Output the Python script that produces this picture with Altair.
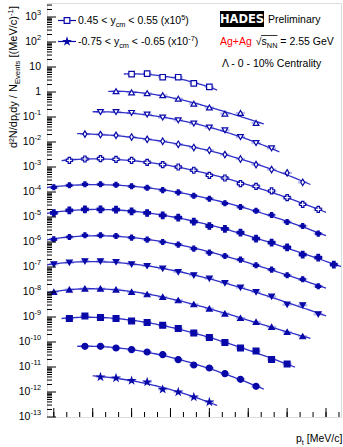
import numpy as np
import pandas as pd
import altair as alt

# ---------------- data: Lambda dN/dpt dy per event, Ag+Ag 0-10 %, unscaled ----------------
# one array per rapidity slice, pt bins are 80 MeV/c wide starting at first_pt
dndpt_y050 = [5.2e-5, 5.4e-5, 3.9e-5, 3.9e-5, 2.2e-5, 1.6e-5]
dndpt_y040 = [1.07e-4, 9.7e-5, 8.9e-5, 7.4e-5, 5.4e-5, 3.4e-5, 2.4e-5, 1.37e-5, 1.45e-5, 5.8e-6]
dndpt_y030 = [1.58e-4, 1.58e-4, 1.45e-4, 1.25e-4, 9.5e-5, 7.4e-5, 5.45e-5, 3.77e-5, 2.94e-5,
              1.58e-5, 9.1e-6, 5.6e-6]
dndpt_y020 = [2.07e-4, 1.98e-4, 1.85e-4, 1.58e-4, 1.28e-4, 1.07e-4, 8.1e-5, 6.0e-5, 4.66e-5,
              3.13e-5, 2.09e-5, 1.25e-5, 7.9e-6, 5.8e-6, 2.44e-6]
dndpt_y010 = [1.85e-4, 2.09e-4, 2.17e-4, 2.03e-4, 1.85e-4, 1.54e-4, 1.25e-4, 1.0e-4, 7.4e-5,
              4.66e-5, 3.63e-5, 2.17e-5, 1.69e-5, 1.10e-5, 5.97e-6, 3.22e-6, 2.03e-6]
dndpt_y000 = [1.54e-4, 1.85e-4, 2.03e-4, 2.03e-4, 1.94e-4, 1.69e-4, 1.47e-4, 1.19e-4, 9.7e-5,
              7.05e-5, 5.35e-5, 3.53e-5, 2.51e-5, 1.77e-5, 1.20e-5, 6.3e-6, 4.37e-6, 2.17e-6]
dndpt_ym010 = [1.45e-4, 1.85e-4, 2.03e-4, 2.03e-4, 1.98e-4, 1.69e-4, 1.45e-4, 1.17e-4, 9.46e-5,
               6.55e-5, 4.37e-5, 3.37e-5, 2.38e-5, 1.37e-5, 9.46e-6, 6.14e-6, 3.13e-6, 2.38e-6,
               1.25e-6]
dndpt_ym020 = [1.28e-4, 1.58e-4, 1.85e-4, 1.85e-4, 1.74e-4, 1.5e-4, 1.25e-4, 1.0e-4, 7.87e-5,
               5.45e-5, 3.77e-5, 2.75e-5, 1.98e-5, 1.17e-5, 7.87e-6, 4.66e-6, 3.22e-6, 1.69e-6]
dndpt_ym030 = [1.28e-4, 1.5e-4, 1.69e-4, 1.69e-4, 1.58e-4, 1.28e-4, 1.10e-4, 8.63e-5, 6.31e-5,
               4.66e-5, 3.44e-5, 2.29e-5, 1.5e-5, 1.0e-5, 6.55e-6, 3.13e-6, 2.94e-6, 1.28e-6]
dndpt_ym040 = [1.0e-4, 1.25e-4, 1.37e-4, 1.37e-4, 1.25e-4, 1.0e-4, 8.1e-5, 6.31e-5, 4.66e-5,
               3.22e-5, 2.17e-5, 1.37e-5, 9.1e-6, 6.31e-6, 3.98e-6, 2.51e-6, 1.69e-6]
dndpt_ym050 = [8.63e-5, 1.10e-4, 9.46e-5, 8.63e-5, 6.92e-5, 5.97e-5, 4.66e-5, 3.44e-5, 2.29e-5,
               1.5e-5, 9.46e-6, 5.75e-6, 4.37e-6, 1.98e-6, 1.32e-6]
dndpt_ym060 = [6.73e-5, 6.73e-5, 5.75e-5, 4.97e-5, 3.98e-5, 3.13e-5, 1.98e-5, 1.2e-5, 9.1e-6,
               5.45e-6, 3.22e-6, 1.69e-6]
dndpt_ym070 = [3.98e-5, 3.63e-5, 2.86e-5, 2.51e-5, 1.28e-5, 1.0e-5, 6.31e-6, 3.98e-6]

slices = [dndpt_y050, dndpt_y040, dndpt_y030, dndpt_y020, dndpt_y010, dndpt_y000, dndpt_ym010,
          dndpt_ym020, dndpt_ym030, dndpt_ym040, dndpt_ym050, dndpt_ym060, dndpt_ym070]
slice_names = ["y 0.5", "y 0.4", "y 0.3", "y 0.2", "y 0.1", "y 0.0", "y -0.1", "y -0.2",
               "y -0.3", "y -0.4", "y -0.5", "y -0.6", "y -0.7"]
scale_power = [5, 4, 3, 2, 1, 0, -1, -2, -3, -4, -5, -6, -7]
first_pt = [600, 520, 440, 360, 280, 200, 200, 200, 200, 200, 280, 360, 440]
bin_step = 80

x_major = [200, 400, 600, 800, 1000, 1200, 1400, 1600]
y_decades = list(range(-13, 4))

# ---------------- marker styles per slice ----------------
STAR = ("M0,-1L0.2245,-0.309L0.9511,-0.309L0.3633,0.118L0.5878,0.809L0,0.382"
        "L-0.5878,0.809L-0.3633,0.118L-0.9511,-0.309L-0.2245,-0.309Z")
DIAM = "M0,-1L0.6,0L0,1L-0.6,0Z"
marker_shape = ["square", "triangle-up", "triangle-down", DIAM, "cross", "cross", "cross",
                "cross", "triangle-down", "triangle-up", "square", "circle", STAR]
marker_open = [True, True, True, True, True, False, False, False, False, False, False, False, False]
marker_size = [30, 32, 32, 42, 36, 24, 42, 24, 32, 32, 34, 36, 42]

W, H = 294, 414
X_DOM = [165, 1677]
Y_DOM = [1e-13, 10 ** 3.56]
FONT = "Liberation Sans"
MARK_C = "#0808a8"
LINE_C = "#3030c8"
BOX_C = "#a4a8ee"

xs = alt.Scale(domain=X_DOM, nice=False, zero=False)
ys = alt.Scale(type="log", domain=Y_DOM, nice=False)

# ---------------- tables ----------------
rows, curve_rows = [], []
for name, vals, p, pt0, opn, shp, msz in zip(slice_names, slices, scale_power, first_pt,
                                            marker_open, marker_shape, marker_size):
    pt = pt0 + bin_step * np.arange(len(vals))
    v = np.array(vals) * 10.0 ** p
    for a, b in zip(pt, v):
        rows.append(dict(series=name, pt=a, val=b, xlo=a - 24, xhi=a + 24,
                         lo=b / 10 ** 0.045, hi=b * 10 ** 0.045,
                         fill="white" if opn else MARK_C, msize=msz))
    # smooth fit in log space, drawn over the full range of the bins
    deg = 3 if len(vals) >= 10 else 2
    c = np.polyfit((pt - 800) / 400.0, np.log10(v), deg)
    grid = np.linspace(pt[0] - bin_step / 2, pt[-1] + bin_step / 2, 80)
    fv = 10 ** np.polyval(c, (grid - 800) / 400.0)
    for a, b in zip(grid, fv):
        curve_rows.append(dict(series=name, pt=a, val=b))

pts = pd.DataFrame(rows)
curves = pd.DataFrame(curve_rows)

boxes = alt.Chart(pts).mark_rect(color=BOX_C, opacity=0.8).encode(
    x=alt.X("xlo:Q", scale=xs, axis=None), x2="xhi:Q",
    y=alt.Y("lo:Q", scale=ys, axis=None), y2="hi:Q")

lines = alt.Chart(curves).mark_line(color=LINE_C, strokeWidth=1.3, clip=True).encode(
    x=alt.X("pt:Q", scale=xs), y=alt.Y("val:Q", scale=ys), detail="series:N")

markers = alt.Chart(pts).mark_point(strokeWidth=1.2, opacity=1, fillOpacity=1).encode(
    x=alt.X("pt:Q", scale=xs,
            axis=alt.Axis(values=x_major, format="d", ticks=False, domain=False, grid=False,
                          labelFont=FONT, labelFontSize=10.5, labelColor="black",
                          labelPadding=5, title=None)),
    y=alt.Y("val:Q", scale=ys),
    shape=alt.Shape("series:N", scale=alt.Scale(domain=slice_names, range=marker_shape),
                    legend=None),
    fill=alt.Fill("fill:N", scale=None),
    size=alt.Size("msize:Q", scale=None),
    stroke=alt.value(MARK_C))

# ---------------- inward ticks ----------------
ymaj = pd.DataFrame({"t": [10.0 ** e for e in y_decades]})
ymin = pd.DataFrame({"t": [m * 10.0 ** e for e in range(-14, 4) for m in range(2, 10)
                           if Y_DOM[0] <= m * 10.0 ** e <= Y_DOM[1]]})
xmaj = pd.DataFrame({"t": x_major})
xmin = pd.DataFrame({"t": [200 + k * 200 / 3 for k in range(-1, 23)
                           if X_DOM[0] <= 200 + k * 200 / 3 <= X_DOM[1]]})

ytick_major = alt.Chart(ymaj).mark_rule(color="black", strokeWidth=1).encode(
    y=alt.Y("t:Q", scale=ys), x=alt.value(0), x2=alt.value(9))
ytick_minor = alt.Chart(ymin).mark_rule(color="black", strokeWidth=1).encode(
    y=alt.Y("t:Q", scale=ys), x=alt.value(0), x2=alt.value(5))
xtick_major = alt.Chart(xmaj).mark_rule(color="black", strokeWidth=1).encode(
    x=alt.X("t:Q", scale=xs), y=alt.value(H), y2=alt.value(H - 9))
xtick_minor = alt.Chart(xmin).mark_rule(color="black", strokeWidth=1).encode(
    x=alt.X("t:Q", scale=xs), y=alt.value(H), y2=alt.value(H - 5))

# ---------------- text helpers (Arial advance widths) ----------------
ADV = {" ": 278, "%": 889, "(": 333, ")": 333, "+": 584, "-": 333, ".": 278,
       "/": 278, "<": 584, "=": 584, "[": 278, "]": 278, "A": 667, "C": 722, "E": 667,
       "G": 778, "M": 833, "N": 722, "P": 667, "V": 667, "a": 556, "c": 500, "d": 556,
       "e": 556, "g": 556, "i": 222, "l": 222, "m": 833, "n": 556, "p": 556, "r": 333,
       "s": 500, "t": 278, "v": 500, "x": 500, "y": 500, "\u039b": 667, "\u221a": 549,
       "\u00b2": 333}


def tw(s, size):
    return sum(ADV.get(ch, 556) for ch in s) * size / 1000.0


text_rows = []


def rich(pieces, x, y, size=10.5, color="black", vertical=False):
    """Lay out normal / sub / sup pieces one after another (leading blanks become advance)."""
    for s, kind in pieces:
        fs = size * 0.7 if kind != "n" else size
        shift = {"n": 0.0, "sub": 3.0, "sup": -4.5}[kind]
        lead = len(s) - len(s.lstrip(" "))
        adv = tw(" " * lead, fs)
        s = s.lstrip(" ")
        if vertical:
            y -= adv
            text_rows.append(dict(s=s, x=x + shift, y=y, fs=fs, c=color, a=270))
            y -= tw(s, fs)
        else:
            x += adv
            text_rows.append(dict(s=s, x=x, y=y + shift, fs=fs, c=color, a=0))
            x += tw(s, fs)
    return x


# legend
rich([("0.45 < y", "n"), ("cm", "sub"), (" < 0.55 (x10", "n"), ("5", "sup"), (")", "n")],
     31, 21)
rich([("-0.75 < y", "n"), ("cm", "sub"), (" < -0.65 (x10", "n"), ("-7", "sup"), (")", "n")],
     31, 42)
# labels on the right
rich([("Preliminary", "n")], 221, 19.5)
xa = rich([("Ag+Ag", "n")], 173, 42, color="#ff0000")
rich([("\u221a", "n")], xa + 4, 42)
xs0 = xa + 4 + tw("\u221a", 10.5)
xe = rich([("s", "n"), ("NN", "sub")], xs0, 42)
rich([(" = 2.55 GeV", "n")], xe, 42)
rich([("\u039b - 0 - 10% Centrality", "n")], 175, 64)
# axis titles
rich([("p", "n"), ("t", "sub"), (" [MeV/c]", "n")], 249, 439)
rich([("d\u00b2N/dp", "n"), ("t", "sub"), ("dy / N", "n"), ("Events", "sub"),
      (" [(MeV/c)", "n"), ("-1", "sup"), ("]", "n")], -30, 145, size=11, vertical=True)

texts = alt.Chart(pd.DataFrame(text_rows)).mark_text(
    align="left", baseline="alphabetic", font=FONT).encode(
    x=alt.X("x:Q", scale=None), y=alt.Y("y:Q", scale=None), text="s:N",
    size=alt.Size("fs:Q", scale=None), color=alt.Color("c:N", scale=None),
    angle=alt.Angle("a:Q", scale=None))

# overline of the square root
sqrt_bar = alt.Chart(pd.DataFrame({"k": [0]})).mark_rule(color="black", strokeWidth=0.8).encode(
    x=alt.value(xs0 - 0.5), x2=alt.value(xe), y=alt.value(32.5))

# y tick labels: "10" with raised exponent, right aligned at the axis
ylab = []
for e in y_decades:
    sup = "" if e in (0, 1) else str(e)
    base = "1" if e == 0 else "10"
    w_sup = tw(sup, 7.3)
    ylab.append(dict(t=10.0 ** e, base=base, sup=sup, bx=-6 - w_sup, sx=-6))
ylab = pd.DataFrame(ylab)
ylab_base = alt.Chart(ylab).mark_text(align="right", baseline="middle", font=FONT,
                                      fontSize=10.5, color="black").encode(
    x=alt.X("bx:Q", scale=None), y=alt.Y("t:Q", scale=ys), text="base:N")
ylab_sup = alt.Chart(ylab).mark_text(align="right", baseline="middle", font=FONT,
                                     fontSize=7.3, dy=-4.5, color="black").encode(
    x=alt.X("sx:Q", scale=None), y=alt.Y("t:Q", scale=ys), text="sup:N")

# legend entries: line through marker
leg = pd.DataFrame({"series": [slice_names[0], slice_names[-1]], "yy": [17.5, 38.5],
                    "fill": ["white", MARK_C], "msize": [32, 42]})
leg_line = alt.Chart(leg).mark_rule(color=MARK_C, strokeWidth=1.2).encode(
    y=alt.Y("yy:Q", scale=None), x=alt.value(11), x2=alt.value(29))
leg_mark = alt.Chart(leg).mark_point(strokeWidth=1.2, opacity=1, fillOpacity=1).encode(
    x=alt.value(20), y=alt.Y("yy:Q", scale=None),
    shape=alt.Shape("series:N", scale=alt.Scale(domain=slice_names, range=marker_shape),
                    legend=None),
    fill=alt.Fill("fill:N", scale=None), size=alt.Size("msize:Q", scale=None),
    stroke=alt.value(MARK_C))

# experiment logo
logo_box = alt.Chart(pd.DataFrame({"k": [0]})).mark_rect(color="black").encode(
    x=alt.value(173), x2=alt.value(217), y=alt.value(8), y2=alt.value(24))
logo_txt = alt.Chart(pd.DataFrame({"s": ["HADES"]})).mark_text(
    align="center", baseline="middle", font="DejaVu Sans", fontWeight="bold", fontSize=11.5,
    color="white").encode(x=alt.value(195), y=alt.value(16.5), text="s:N")

chart = alt.layer(
    boxes, lines, markers,
    ytick_minor, ytick_major, xtick_minor, xtick_major,
    ylab_base, ylab_sup, texts, sqrt_bar, leg_line, leg_mark, logo_box, logo_txt
).properties(
    width=W, height=H,
    autosize=alt.AutoSizeParams(type="none"),
    padding={"left": 47, "top": 3, "right": 2, "bottom": 30},
).configure_view(stroke="black", strokeWidth=1).configure(background="white")

chart.save("out.html", embed_options={"renderer": "svg", "actions": False})
